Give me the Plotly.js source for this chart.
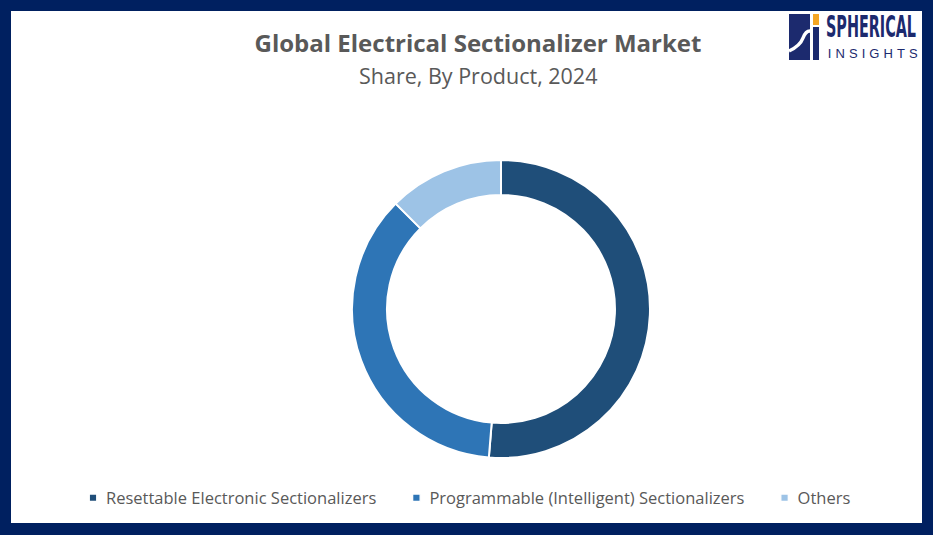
<!DOCTYPE html>
<html>
<head>
<meta charset="utf-8">
<script src="https://cdn.plot.ly/plotly-3.0.1.min.js"></script>
<style>
html,body{margin:0;padding:0;background:#fff;}
#chart{width:933px;height:535px;}
</style>
</head>
<body>
<div id="chart"></div>
<script>
const categories = ["Resettable Electronic Sectionalizers", "Programmable (Intelligent) Sectionalizers", "Others"];
const shares = [51.3, 36.2, 12.5];
const colors = ["#1f4e79", "#2e75b6", "#9dc3e6"];
const titleText = "Global Electrical Sectionalizer Market";
const subtitleText = "Share, By Product, 2024";

const W = 933, H = 535;
const cx = 501, cy = 309, R = 149;
const navy = "#002060";
const logoNavy = "#1c2a6e";
const FONT = "'Open Sans', Lato, sans-serif";

function px(x){ return x / W; }
function py(y){ return 1 - y / H; }

const trace = {
  type: "pie",
  labels: categories,
  values: shares,
  hole: 0.765,
  sort: false,
  direction: "clockwise",
  rotation: 0,
  textinfo: "none",
  hoverinfo: "label+percent",
  marker: {colors: colors, line: {color: "#ffffff", width: 2}},
  domain: {x: [px(cx - R), px(cx + R)], y: [py(cy + R), py(cy - R)]}
};

const shapes = [
  {type:"rect", xref:"paper", yref:"paper", x0:0, x1:1, y0:py(11), y1:1, fillcolor:navy, line:{width:0}, layer:"below"},
  {type:"rect", xref:"paper", yref:"paper", x0:0, x1:1, y0:0, y1:py(523), fillcolor:navy, line:{width:0}, layer:"below"},
  {type:"rect", xref:"paper", yref:"paper", x0:0, x1:px(11), y0:0, y1:1, fillcolor:navy, line:{width:0}, layer:"below"},
  {type:"rect", xref:"paper", yref:"paper", x0:px(922), x1:1, y0:0, y1:1, fillcolor:navy, line:{width:0}, layer:"below"},
  {type:"rect", xref:"paper", yref:"paper", x0:px(789), x1:px(810), y0:py(60), y1:py(14), fillcolor:logoNavy, line:{width:0}},
  {type:"rect", xref:"paper", yref:"paper", x0:px(813), x1:px(819), y0:py(25), y1:py(14), fillcolor:"#f5a623", line:{width:0}},
  {type:"rect", xref:"paper", yref:"paper", x0:px(813), x1:px(819), y0:py(60), y1:py(27), fillcolor:logoNavy, line:{width:0}},
  {type:"path", xref:"paper", yref:"paper",
   path:"M " + px(789) + "," + py(51) + " Q " + px(800) + "," + py(46) + " " + px(803) + "," + py(38) + " T " + px(811) + "," + py(31),
   line:{color:"#ffffff", width:3.5}}
];

const annotations = [
  {text: subtitleText, xref:"paper", yref:"paper", x: px(478), y: py(75), xanchor:"center", yanchor:"middle",
   showarrow:false, font:{family:FONT, size:21.5, color:"#595959"}},
  {text: "<b>SPHERICAL</b>", xref:"paper", yref:"paper", x: px(871), y: py(27), xanchor:"center", yanchor:"middle",
   width: 100, height: 34,
   showarrow:false, font:{family:"'Liberation Sans Narrow', 'DejaVu Sans Condensed', sans-serif", size:21, color:logoNavy}},
  {text: "INSIGHTS", xref:"paper", yref:"paper", x: px(873), y: py(54), xanchor:"center", yanchor:"middle",
   showarrow:false, font:{family:"'Liberation Sans', sans-serif", size:13, color:logoNavy}}
];

const layout = {
  width: W, height: H,
  margin: {l:0, r:0, t:0, b:0},
  paper_bgcolor: "#ffffff",
  plot_bgcolor: "#ffffff",
  title: {text: "<b>" + titleText + "</b>", x: px(478), xanchor:"center", y: py(44), yanchor:"middle", yref:"container",
          font:{family:FONT, size:24, color:"#595959"}},
  showlegend: true,
  legend: {orientation:"h", x: px(66), xanchor:"left", y: py(498), yanchor:"middle",
           font:{family:FONT, size:16.5, color:"#595959"}, bgcolor:"rgba(0,0,0,0)"},
  shapes: shapes,
  annotations: annotations
};

Plotly.newPlot("chart", [trace], layout, {displayModeBar:false, staticPlot:true}).then(function(gd){
  const root = gd.getBoundingClientRect();
  gd.querySelectorAll(".annotation-text").forEach(function(t){
    if (t.textContent === "SPHERICAL") {
      t.setAttribute("textLength", "90");
      t.setAttribute("lengthAdjust", "spacingAndGlyphs");
      const bb = t.getBBox();
      const s = 1.45;
      const cyL = bb.y + bb.height / 2;
      const b = t.getBoundingClientRect();
      const dx = (root.left + 826) - b.left;
      t.setAttribute("transform", "translate(" + dx + "," + (cyL * (1 - s)) + ") scale(1," + s + ")");
    } else if (t.textContent === "INSIGHTS") {
      t.setAttribute("textLength", "90");
      t.setAttribute("lengthAdjust", "spacing");
    }
  });
  gd.querySelectorAll(".legend .scrollbox").forEach(function(el){ el.removeAttribute("clip-path"); });
  gd.querySelectorAll(".legendpoints path").forEach(function(p){
    p.setAttribute("transform", "translate(27,0) scale(0.62)");
  });
  gd.querySelectorAll(".legend .traces").forEach(function(g, i){
    const tr = g.getAttribute("transform") || "";
    const m = tr.match(/translate\(([-\d.]+)[ ,]+([-\d.]+)\)/);
    if (m) {
      g.setAttribute("transform", "translate(" + (parseFloat(m[1]) + 8 * i) + "," + m[2] + ")");
    }
  });
});
</script>
</body>
</html>
